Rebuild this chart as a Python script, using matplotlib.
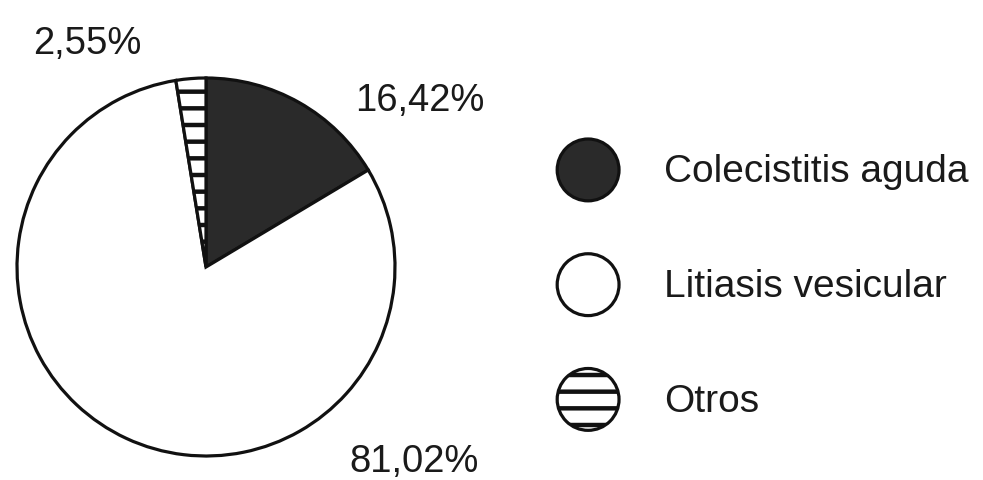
import matplotlib
matplotlib.use("Agg")
import matplotlib.pyplot as plt
import matplotlib.patches as mpatches
from matplotlib.legend_handler import HandlerPatch

plt.rcParams["font.family"] = ["Liberation Sans", "DejaVu Sans"]
plt.rcParams["hatch.linewidth"] = 3.2

categorias = ["Colecistitis aguda", "Litiasis vesicular", "Otros"]
porcentajes = [16.42, 81.02, 2.55]
colores = ["#2a2a2a", "white", "white"]
tramas = [None, None, "-"]

# posiciones de las etiquetas de porcentaje (en radios, desde el centro)
pos_etiquetas = [(1.13, 0.88), (1.10, -1.03), (-0.63, 1.18)]

fig = plt.figure(figsize=(9.83, 4.8), dpi=100)
ax = fig.add_axes([17 / 983, 24 / 480, 378 / 983, 378 / 480])

cunas, _ = ax.pie(porcentajes, colors=colores, startangle=90, counterclock=False,
                  radius=1, wedgeprops=dict(edgecolor="#111111", linewidth=2.3))
for cuna, trama in zip(cunas, tramas):
    if trama:
        cuna.set_hatch(trama)
ax.set_xlim(-1, 1)
ax.set_ylim(-1, 1)
ax.set_aspect("equal")
ax.axis("off")

for valor, (x, y) in zip(porcentajes, pos_etiquetas):
    texto = f"{valor:.2f}%".replace(".", ",")
    ax.text(x, y, texto, ha="center", va="center", fontsize=27.5,
            color="#1a1a1a", clip_on=False)


def circulo(legend, orig_handle, xdescent, ydescent, width, height, fontsize):
    r = min(width, height) / 2
    return mpatches.Circle((width / 2 - xdescent, height / 2 - ydescent), r)


fig.legend(cunas, categorias, loc="upper left", bbox_to_anchor=(557 / 983, 1 - 139 / 480),
           frameon=False, fontsize=28, handlelength=1.6, handleheight=2.07,
           handletextpad=1.16, labelspacing=1.36, borderpad=0, borderaxespad=0,
           labelcolor="#1a1a1a",
           handler_map={mpatches.Wedge: HandlerPatch(patch_func=circulo)})

plt.savefig("out.png", dpi=100)
